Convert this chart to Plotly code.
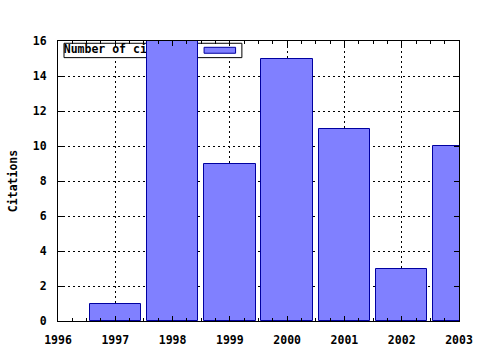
import plotly.graph_objects as go

years = [1997, 1998, 1999, 2000, 2001, 2002, 2003]
citations = [1, 16, 9, 15, 11, 3, 10]
series_name = "Number of citations"
y_title = "Citations"
x_ticks = [1996, 1997, 1998, 1999, 2000, 2001, 2002, 2003]
y_ticks = [0, 2, 4, 6, 8, 10, 12, 14, 16]

FONT = "DejaVu Sans Mono"
fsize = 11.5
fill = "#8080ff"
edge = "#0000a0"

fig = go.Figure()

# legend text (on main axes, underneath the bars, as in the original)
fig.add_trace(go.Scatter(
    x=[1996.1], y=[15.46], mode="text", text=["<b>" + series_name + "</b>"],
    textposition="middle right", textfont=dict(family=FONT, size=fsize, color="black"),
    hoverinfo="skip", showlegend=False, xaxis="x", yaxis="y", cliponaxis=False,
))

# bars on an overlaid subplot so they are drawn above the legend text
fig.add_trace(go.Bar(
    x=years, y=citations, width=0.9, name=series_name,
    marker=dict(color=fill, line=dict(color=edge, width=1)),
    xaxis="x2", yaxis="y2", showlegend=False,
))

# legend box (between grid and traces) and swatch
fig.add_shape(type="rect", xref="x", yref="y", x0=1996.105, x1=1999.21, y0=15.05, y1=15.87,
              line=dict(color="black", width=1), fillcolor="white", layer="between")
fig.add_shape(type="rect", xref="x", yref="y", x0=1998.55, x1=1999.10, y0=15.30, y1=15.64,
              line=dict(color=edge, width=1), fillcolor=fill, layer="above")

tickfont = dict(family=FONT, size=fsize, color="black")
axis_common = dict(
    showline=True, linecolor="black", linewidth=1, mirror="ticks",
    ticks="inside", ticklen=5, tickcolor="black", tickwidth=1,
    showgrid=True, gridcolor="black", gridwidth=1, griddash="2px,3px",
    zeroline=False, tickfont=tickfont, automargin=False,
)

fig.update_layout(
    width=480, height=350,
    margin=dict(l=58, r=21, t=41, b=29),
    paper_bgcolor="white", plot_bgcolor="white",
    showlegend=False,
    bargap=0,
    xaxis=dict(range=[1996, 2003], tickvals=x_ticks,
               ticktext=["<b>%d</b>" % v for v in x_ticks],
               ticklabelstandoff=8,
               minor=dict(dtick=0.25, tick0=1996, ticks="inside", ticklen=3, tickcolor="black", showgrid=False),
               **axis_common),
    yaxis=dict(range=[0, 16], tickvals=y_ticks,
               ticktext=["<b>%d</b>" % v for v in y_ticks],
               ticklabelstandoff=8,
               title=dict(text="<b>" + y_title + "</b>", font=dict(family=FONT, size=fsize, color="black"), standoff=12),
               **axis_common),
    xaxis2=dict(range=[1996, 2003], overlaying="x", visible=False),
    yaxis2=dict(range=[0, 16], overlaying="y", visible=False),
)

fig.write_html("out.html")
